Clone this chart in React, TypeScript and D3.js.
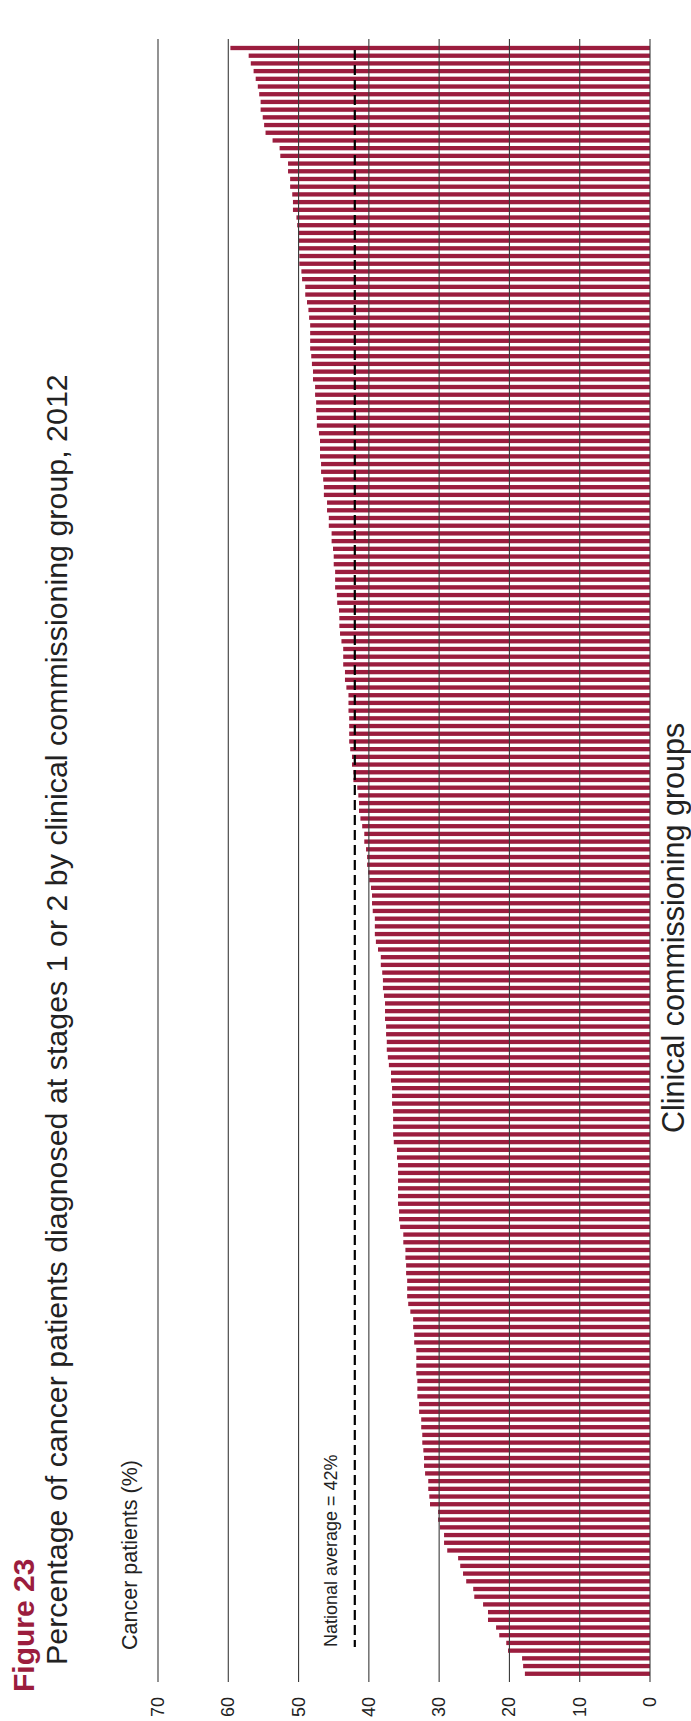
import React from "react";
import * as d3 from "d3";

// Percentage of cancer patients diagnosed at stages 1 or 2, by CCG (sorted, highest first)
const ccgValues: number[] = [
  59.7, 57.1, 56.8, 56.4, 56.1, 55.8, 55.6, 55.4, 55.4, 55.1,
  54.9, 54.7, 53.7, 52.7, 52.6, 51.5, 51.5, 51.2, 51.2, 50.9,
  50.8, 50.8, 50.3, 50.2, 50.05, 50.05, 49.95, 49.9, 49.9, 49.6,
  49.5, 49.05, 49.05, 48.8, 48.6, 48.5, 48.35, 48.35, 48.35, 48.35,
  48.2, 48.1, 47.95, 47.95, 47.65, 47.65, 47.5, 47.5, 47.4, 47.4,
  47.1, 46.95, 46.95, 46.95, 46.8, 46.8, 46.5, 46.4, 46.4, 45.95,
  45.95, 45.7, 45.7, 45.3, 45.3, 45.1, 45.0, 45.0, 44.8, 44.8,
  44.8, 44.55, 44.5, 44.25, 44.2, 44.2, 44.1, 43.9, 43.65, 43.65,
  43.65, 43.4, 43.4, 43.2, 42.9, 42.9, 42.9, 42.8, 42.8, 42.8,
  42.8, 42.65, 42.4, 42.4, 42.2, 42.2, 41.65, 41.5, 41.4, 41.4,
  41.2, 40.95, 40.65, 40.65, 40.4, 40.25, 40.25, 40.1, 39.95, 39.7,
  39.55, 39.55, 39.45, 39.15, 39.15, 39.15, 39.0, 38.7, 38.3, 38.3,
  38.1, 38.0, 38.0, 37.85, 37.7, 37.7, 37.7, 37.55, 37.55, 37.45,
  37.45, 37.3, 37.15, 36.85, 36.85, 36.7, 36.7, 36.7, 36.55, 36.55,
  36.55, 36.55, 36.45, 36.0, 36.0, 35.85, 35.85, 35.85, 35.85, 35.85,
  35.85, 35.7, 35.7, 35.55, 35.1, 35.1, 34.8, 34.8, 34.7, 34.7,
  34.55, 34.55, 34.55, 34.4, 34.1, 33.7, 33.7, 33.55, 33.55, 33.25,
  33.25, 33.25, 33.25, 33.1, 33.1, 33.1, 32.85, 32.85, 32.55, 32.55,
  32.4, 32.4, 32.25, 32.15, 32.15, 32.0, 31.55, 31.55, 31.4, 31.3,
  30.15, 30.15, 29.9, 29.3, 29.3, 28.85, 27.3, 27.0, 26.6, 26.15,
  25.15, 25.0, 23.75, 23.05, 23.05, 21.9, 21.45, 20.45, 20.2, 18.2,
  18.05, 17.8,
];

const valueTicks: number[] = [0, 10, 20, 30, 40, 50, 60, 70];
const nationalAverage = 42;

const figureLabel = "Figure 23";
const titleText =
  "Percentage of cancer patients diagnosed at stages 1 or 2 by clinical commissioning group, 2012";
const valueAxisTitle = "Cancer patients (%)";
const categoryAxisTitle = "Clinical commissioning groups";
const averageLabel = "National average = 42%";

const W = 691;
const H = 1721;
const BAR = "#9b1d3e";
const FONT = "'Liberation Sans', Arial, Helvetica, sans-serif";

export default function App() {
  const x = d3.scaleLinear().domain([0, 70]).range([650, 158]);
  const y = d3
    .scaleBand<number>()
    .domain(d3.range(ccgValues.length))
    .range([42.45, 1679.3])
    .padding(0.44);

  const gridTop = 39;
  const gridBottom = 1682;

  const rot = (px: number, py: number) => `translate(${px},${py}) rotate(-90)`;

  return (
    <svg
      width={W}
      height={H}
      viewBox={`0 0 ${W} ${H}`}
      style={{ position: "absolute", left: 0, top: 0, background: "#fff" }}
      fontFamily={FONT}
    >
      <rect x={0} y={0} width={W} height={H} fill="#fff" />
      {/* bars */}
      <g>
        {ccgValues.map((v, i) => (
          <rect
            key={i}
            x={x(v)}
            y={y(i)!}
            width={x(0) - x(v)}
            height={y.bandwidth()}
            fill={BAR}
          />
        ))}
      </g>
      {/* gridlines */}
      <g>
        {valueTicks.map((t) => (
          <line
            key={t}
            x1={x(t)}
            x2={x(t)}
            y1={gridTop}
            y2={gridBottom}
            stroke="#3a3a3a"
            strokeWidth={1.1}
          />
        ))}
      </g>
      {/* national average */}
      <line
        x1={x(nationalAverage)}
        x2={x(nationalAverage)}
        y1={50}
        y2={1647}
        stroke="#000"
        strokeWidth={2.2}
        strokeDasharray="10,5"
      />
      {/* tick labels */}
      <g fontSize={18} fill="#222">
        {valueTicks.map((t) => (
          <text
            key={t}
            transform={rot(x(t), 1697)}
            textAnchor="end"
            dominantBaseline="central"
          >
            {t}
          </text>
        ))}
      </g>
      <text transform={rot(337, 1647)} fontSize={18} fill="#222">
        {averageLabel}
      </text>
      <text transform={rot(684, 1133)} fontSize={30.5} fill="#222">
        {categoryAxisTitle}
      </text>
      <text transform={rot(137, 1650)} fontSize={21.5} fill="#222">
        {valueAxisTitle}
      </text>
      <text transform={rot(67, 1665)} fontSize={30.4} fill="#222">
        {titleText}
      </text>
      <text transform={rot(34, 1692)} fontSize={30} fontWeight="bold" fill={BAR}>
        {figureLabel}
      </text>
    </svg>
  );
}
